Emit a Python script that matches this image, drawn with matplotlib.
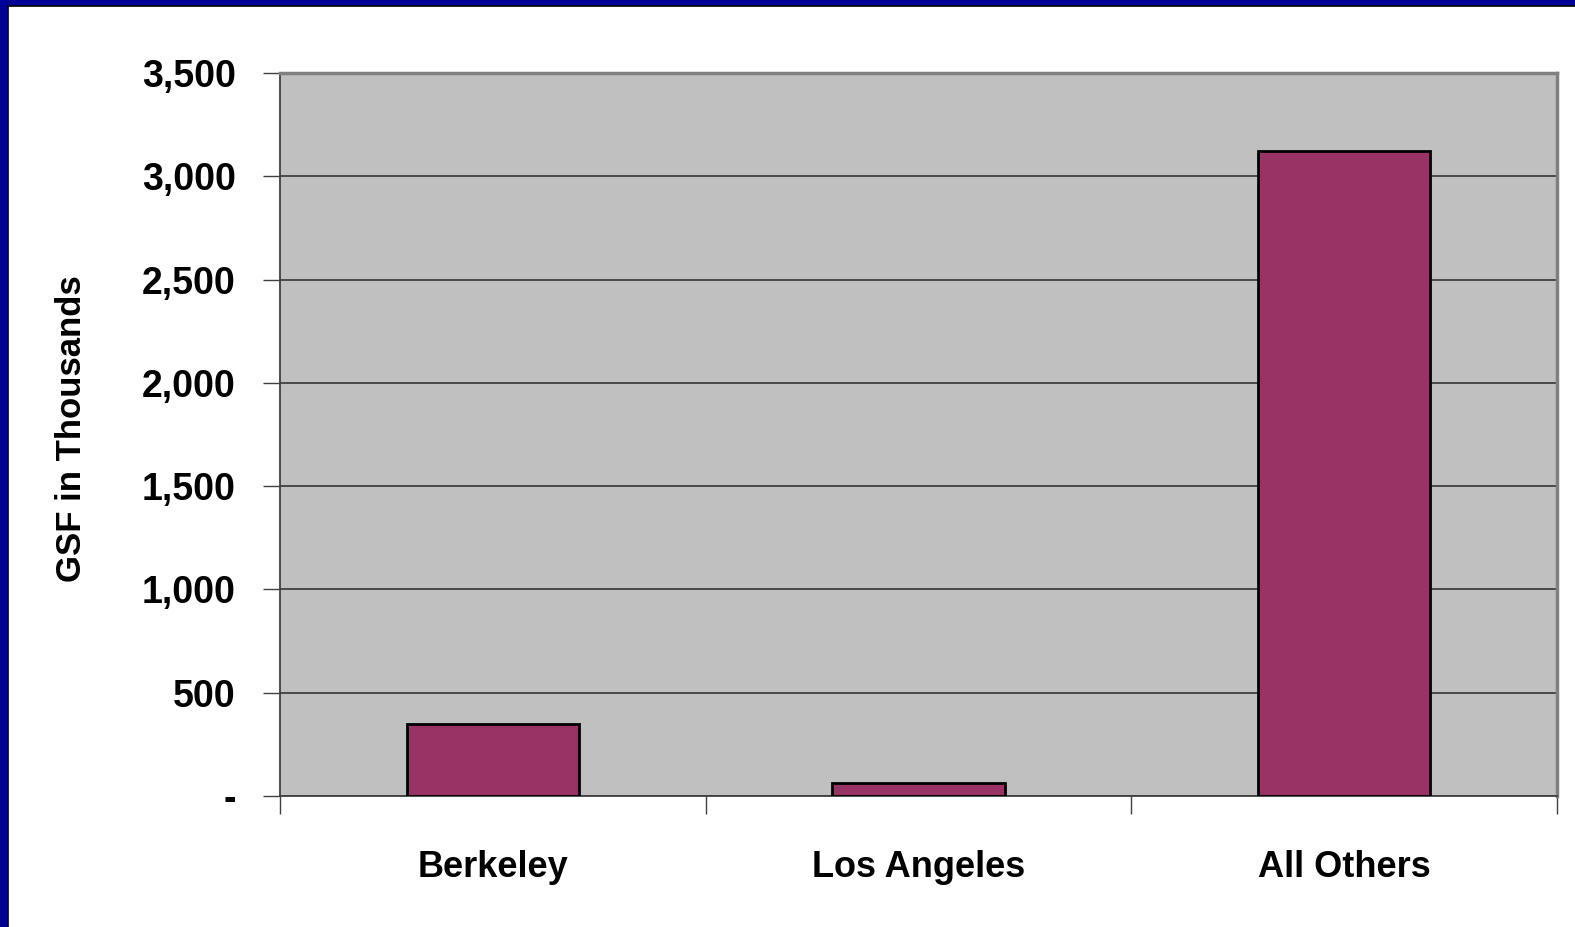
import matplotlib.pyplot as plt
from matplotlib.patches import Rectangle
from matplotlib.ticker import FuncFormatter

# данные
campuses = ['Berkeley', 'Los Angeles', 'All Others']
gsf_thousands = [350, 63, 3120]
y_ticks = [0, 500, 1000, 1500, 2000, 2500, 3000, 3500]

plt.rcParams['font.family'] = ['Liberation Sans', 'DejaVu Sans']
plt.rcParams['font.weight'] = 'bold'

fig = plt.figure(figsize=(15.75, 9.27), dpi=100)

# синяя рамка слайда
fig.patches.append(Rectangle((0, 0), 1, 1, transform=fig.transFigure,
                             facecolor='#000099', edgecolor='none', zorder=-10))
fig.patches.append(Rectangle((8 / 1575, -0.01), 1.02, 1 - 6 / 927 + 0.01,
                             transform=fig.transFigure, facecolor='white',
                             edgecolor='black', linewidth=1.2, zorder=-9))

ax = fig.add_axes([280 / 1575, 131 / 927, 1277 / 1575, 723 / 927])
ax.set_facecolor('#C0C0C0')

x = range(len(campuses))
ax.bar(x, gsf_thousands, width=0.405, color='#993366',
       edgecolor='black', linewidth=2, zorder=3)

ax.set_xlim(-0.5, len(campuses) - 0.5)
ax.set_ylim(0, 3500)
ax.set_yticks(y_ticks)
ax.yaxis.set_major_formatter(FuncFormatter(lambda v, p: '-' if v == 0 else f'{int(v):,}'))
ax.grid(axis='y', color='#404040', linewidth=1.3, zorder=1)
ax.set_axisbelow(True)

# деления по границам категорий, подписи по центрам
ax.set_xticks([-0.5, 0.5, 1.5, 2.5])
ax.set_xticklabels([])
ax.set_xticks(list(x), minor=True)
ax.set_xticklabels(campuses, minor=True, fontsize=26, fontweight='bold')
ax.tick_params(axis='x', which='major', length=13, width=1, color='#404040')
ax.tick_params(axis='x', which='minor', length=0, pad=39)
ax.tick_params(axis='y', length=12, width=1, color='#404040', labelsize=27, pad=20)
for lab in ax.get_yticklabels():
    lab.set_fontweight('bold')

for side in ['top', 'right']:
    ax.spines[side].set_color('#808080')
    ax.spines[side].set_linewidth(2.5)
for side in ['left', 'bottom']:
    ax.spines[side].set_color('#404040')
    ax.spines[side].set_linewidth(1.3)

fig.text(72 / 1575, 1 - 429 / 927, 'GSF in Thousands', rotation=90,
         ha='center', va='center', fontsize=25, fontweight='bold')

fig.savefig('out.png', dpi=100)
